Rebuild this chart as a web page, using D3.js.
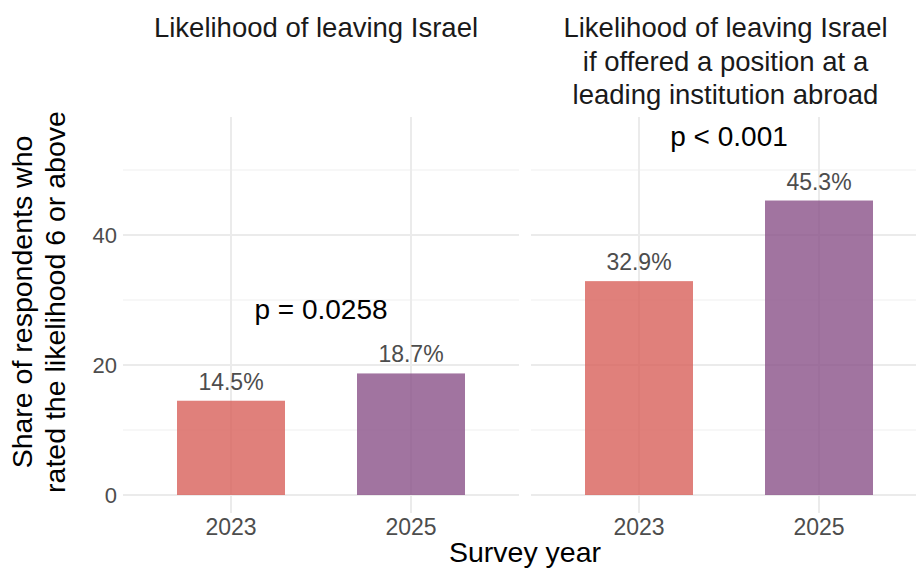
<!DOCTYPE html>
<html>
<head>
<meta charset="utf-8">
<script src="https://cdn.jsdelivr.net/npm/d3@7"></script>
<style>
html,body{margin:0;padding:0;background:#fff;}
svg{display:block;font-family:"Liberation Sans",Arial,sans-serif;}
</style>
</head>
<body>
<svg id="chart" width="916" height="570"></svg>
<script>
const years = ["2023", "2025"];
const panelTitles = [
  ["Likelihood of leaving Israel"],
  ["Likelihood of leaving Israel", "if offered a position at a", "leading institution abroad"]
];
const leavingValues = [14.5, 18.7];
const offeredValues = [32.9, 45.3];
const valueLabels = [["14.5%", "18.7%"], ["32.9%", "45.3%"]];
const pLabels = ["p = 0.0258", "p < 0.001"];
const yTicks = [0, 20, 40];
const yMinorTicks = [10, 30, 50];
const yTitle = ["Share of respondents who", "rated the likelihood 6 or above"];
const xTitle = "Survey year";

const seriesValues = [leavingValues, offeredValues];
const colors = ["#D8605A", "#895188"];

const svg = d3.select("#chart");
const plotTop = 117, plotBottom = 513;
const panelRanges = [[123, 519], [531, 927]];

const y = d3.scaleLinear().domain([-2.77, 58.15]).range([plotBottom, plotTop]);

panelRanges.forEach((rng, pi) => {
  const x = d3.scaleBand().domain(years).range(rng).paddingInner(0.4).paddingOuter(0.3);
  const g = svg.append("g");
  g.selectAll(".minor").data(yMinorTicks).enter().append("line")
    .attr("x1", rng[0]).attr("x2", rng[1])
    .attr("y1", d => y(d)).attr("y2", d => y(d))
    .attr("stroke", "#f0f0f0").attr("stroke-width", 1.2);
  g.selectAll(".major").data(yTicks).enter().append("line")
    .attr("x1", rng[0]).attr("x2", rng[1])
    .attr("y1", d => y(d)).attr("y2", d => y(d))
    .attr("stroke", "#ebebeb").attr("stroke-width", 2);
  g.selectAll(".vgrid").data(years).enter().append("line")
    .attr("x1", d => x(d) + x.bandwidth() / 2).attr("x2", d => x(d) + x.bandwidth() / 2)
    .attr("y1", plotTop).attr("y2", plotBottom)
    .attr("stroke", "#ebebeb").attr("stroke-width", 2);
  const vals = seriesValues[pi];
  g.selectAll(".bar").data(years).enter().append("rect")
    .attr("x", d => x(d))
    .attr("width", x.bandwidth())
    .attr("y", (d, i) => y(vals[i]))
    .attr("height", (d, i) => y(0) - y(vals[i]))
    .attr("fill", (d, i) => colors[i])
    .attr("fill-opacity", 0.8);
  g.selectAll(".vl").data(years).enter().append("text")
    .attr("x", d => x(d) + x.bandwidth() / 2)
    .attr("y", (d, i) => y(vals[i]) - 11)
    .attr("text-anchor", "middle")
    .attr("font-size", 23)
    .attr("fill", "#4d4d4d")
    .text((d, i) => valueLabels[pi][i]);
  g.selectAll(".xt").data(years).enter().append("text")
    .attr("x", d => x(d) + x.bandwidth() / 2)
    .attr("y", 535)
    .attr("text-anchor", "middle")
    .attr("font-size", 23)
    .attr("fill", "#4d4d4d")
    .text(d => d);
  const cx = (rng[0] + rng[1]) / 2;
  g.append("text")
    .attr("x", cx)
    .attr("y", y(d3.max(vals) + 10))
    .attr("dy", "0.36em")
    .attr("text-anchor", "middle")
    .attr("font-size", 28)
    .attr("fill", "#000")
    .text(pLabels[pi]);
  const tx = pi === 0 ? 316 : 725.5;
  g.append("text")
    .attr("text-anchor", "middle")
    .attr("font-size", 27.5)
    .attr("fill", "#1a1a1a")
    .selectAll("tspan").data(panelTitles[pi]).enter().append("tspan")
    .attr("x", tx)
    .attr("y", (d, i) => 37 + i * 33.5)
    .text(d => d);
});

svg.selectAll(".yt").data(yTicks).enter().append("text")
  .attr("x", 117)
  .attr("y", d => y(d))
  .attr("dy", "0.36em")
  .attr("text-anchor", "end")
  .attr("font-size", 22)
  .attr("fill", "#4d4d4d")
  .text(d => d);

svg.append("text")
  .attr("transform", "translate(0,302) rotate(-90)")
  .attr("text-anchor", "middle")
  .attr("font-size", 28.5)
  .attr("fill", "#000")
  .selectAll("tspan").data(yTitle).enter().append("tspan")
  .attr("x", 0)
  .attr("y", (d, i) => 32 + i * 33)
  .text(d => d);

svg.append("text")
  .attr("x", 525)
  .attr("y", 562)
  .attr("text-anchor", "middle")
  .attr("font-size", 28.5)
  .attr("fill", "#000")
  .text(xTitle);
</script>
</body>
</html>
